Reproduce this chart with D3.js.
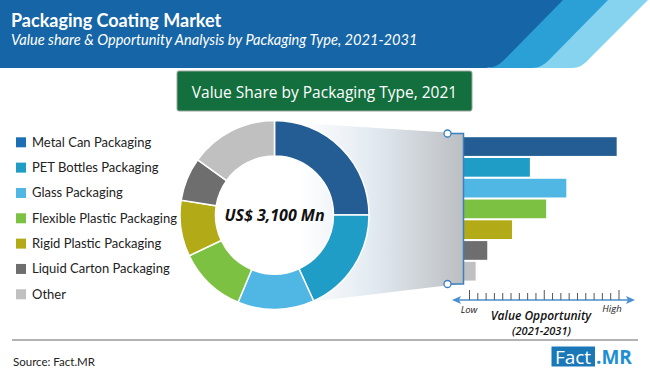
<!DOCTYPE html>
<html>
<head>
<meta charset="utf-8">
<script src="https://d3js.org/d3.v7.min.js"></script>
<style>
    body { margin: 0; background: #fff; }
    svg { display: block; }
    .legend text { font-family: Lato, sans-serif; font-size: 13px; fill: #222; }
</style>
</head>
<body>
<div id="chart"></div>
<script>
    // data
    var categories = ["Metal Can Packaging", "PET Bottles Packaging", "Glass Packaging",
        "Flexible Plastic Packaging", "Rigid Plastic Packaging", "Liquid Carton Packaging", "Other"];
    var shares = [25, 18.2, 13.1, 11.6, 9.6, 7.4, 15.1];          // % value share 2021
    var opportunity = [98.5, 42.5, 66, 53, 31, 15, 7.5];           // relative, low -> high
    var colors = ["#235d94", "#1f9dc6", "#50b7e5", "#7cc142", "#b3aa17", "#6e6e6e", "#c0c0c0"];
    var legendColors = ["#1c6fb5", "#1f9dc6", "#50b7e5", "#7cc142", "#b3aa17", "#6e6e6e", "#c0c0c0"];
    var tickSteps = d3.range(19);

    var width = 650, height = 374;

    var svg = d3.select("#chart").append("svg")
        .attr("width", width)
        .attr("height", height);

    var defs = svg.append("defs");
    var grad = defs.append("linearGradient")
        .attr("id", "funnel")
        .attr("gradientUnits", "userSpaceOnUse")
        .attr("x1", 300).attr("y1", 0).attr("x2", 463).attr("y2", 0);
    grad.append("stop").attr("offset", "0").attr("stop-color", "#ffffff");
    grad.append("stop").attr("offset", "0.45").attr("stop-color", "#e2eaf1");
    grad.append("stop").attr("offset", "1").attr("stop-color", "#bcbfc2");

    // header band
    svg.append("path")
        .attr("d", "M540,0 L648,0 L590,58 Q582,68 572,68 L490,68 Z")
        .attr("fill", "#86d3ef");
    svg.append("path")
        .attr("d", "M540,0 L608,0 L550,59 Q542,68 532,68 L490,68 Z")
        .attr("fill", "#2ba0d7");
    svg.append("path")
        .attr("d", "M0,0 L563,0 L503,61 Q496,68 486,68 L0,68 Z")
        .attr("fill", "#1565a7");

    svg.append("text")
        .attr("x", 11).attr("y", 27)
        .attr("fill", "#fff")
        .style("font-family", "Lato, sans-serif")
        .style("font-weight", "bold")
        .style("font-size", "18px")
        .text("Packaging Coating Market");

    svg.append("text")
        .attr("x", 11).attr("y", 45)
        .attr("fill", "#fff")
        .style("font-family", "Lato, sans-serif")
        .style("font-style", "italic")
        .style("font-size", "14.6px")
        .text("Value share & Opportunity Analysis by Packaging Type, 2021-2031");

    // green title box
    svg.append("rect")
        .attr("x", 177).attr("y", 71)
        .attr("width", 295).attr("height", 40)
        .attr("rx", 2)
        .attr("fill", "#146f3e")
        .attr("stroke", "#9aa59e")
        .attr("stroke-width", 1);

    svg.append("text")
        .attr("x", 324.5).attr("y", 97.5)
        .attr("text-anchor", "middle")
        .attr("fill", "#fff")
        .style("font-family", "'Open Sans', sans-serif")
        .style("font-size", "15.5px")
        .text("Value Share by Packaging Type, 2021");

    // funnel between donut and bars
    svg.append("path")
        .attr("d", "M275,121.5 L463,133.5 L463,283.5 L313,301.5 Z")
        .attr("fill", "url(#funnel)");

    // donut
    var cx = 274.5, cy = 215;
    var pie = d3.pie().sort(null).value(function (d) { return d; });
    var arc = d3.arc().innerRadius(59).outerRadius(94.5);

    svg.append("g")
        .attr("transform", "translate(" + cx + "," + cy + ")")
        .selectAll("path")
        .data(pie(shares))
        .enter().append("path")
        .attr("d", arc)
        .attr("fill", function (d, i) { return colors[i]; })
        .attr("stroke", "#fff")
        .attr("stroke-width", 1.5);

    svg.append("text")
        .attr("x", cx).attr("y", 221)
        .attr("text-anchor", "middle")
        .attr("fill", "#111")
        .style("font-family", "'Open Sans', sans-serif")
        .style("font-weight", "bold")
        .style("font-style", "italic")
        .style("font-size", "16px")
        .text("US$ 3,100 Mn");

    // legend
    var legend = svg.append("g").attr("class", "legend")
        .selectAll("g")
        .data(categories)
        .enter().append("g")
        .attr("transform", function (d, i) { return "translate(16," + (142.3 + i * 25.33) + ")"; });

    legend.append("rect")
        .attr("x", 0).attr("y", -5)
        .attr("width", 10).attr("height", 10)
        .attr("fill", function (d, i) { return legendColors[i]; });

    legend.append("text")
        .attr("x", 16).attr("y", 4.5)
        .text(function (d) { return d; });

    // bars
    var x = d3.scaleLinear().domain([0, 100]).range([464, 619]);
    var y = d3.scaleBand().domain(categories).range([136.8, 281]).paddingInner(0.1).paddingOuter(0.02);

    svg.append("g")
        .selectAll("rect")
        .data(opportunity)
        .enter().append("rect")
        .attr("x", x(0))
        .attr("y", function (d, i) { return y(categories[i]); })
        .attr("width", function (d) { return x(d) - x(0); })
        .attr("height", y.bandwidth())
        .attr("fill", function (d, i) { return colors[i]; });

    // bracket with circles
    var blue = "#3b7fbf";
    svg.append("path")
        .attr("d", "M447.5,133.5 H463.5 V284 H447.5")
        .attr("fill", "none")
        .attr("stroke", blue)
        .attr("stroke-width", 1.5);
    svg.selectAll("circle.knob")
        .data([133.5, 284])
        .enter().append("circle")
        .attr("class", "knob")
        .attr("cx", 447.5).attr("cy", function (d) { return d; })
        .attr("r", 3.5)
        .attr("fill", "#fff")
        .attr("stroke", blue)
        .attr("stroke-width", 1.3);

    // value opportunity axis
    var t = d3.scaleLinear().domain([0, 18]).range([469.5, 619]);
    var axisY = 300;
    svg.append("line")
        .attr("x1", 457).attr("x2", 630)
        .attr("y1", axisY).attr("y2", axisY)
        .attr("stroke", "#4a8fd0").attr("stroke-width", 1.5);
    svg.append("path")
        .attr("d", "M452," + axisY + " l9,-4 l-2,4 l2,4 Z")
        .attr("fill", "#4a8fd0");
    svg.append("path")
        .attr("d", "M635," + axisY + " l-9,-4 l2,4 l-2,4 Z")
        .attr("fill", "#4a8fd0");

    svg.append("g")
        .selectAll("line")
        .data(tickSteps)
        .enter().append("line")
        .attr("x1", function (d) { return t(d); })
        .attr("x2", function (d) { return t(d); })
        .attr("y1", axisY)
        .attr("y2", function (d) { return d % 9 === 0 ? axisY - 10 : axisY - 7; })
        .attr("stroke", "#555")
        .attr("stroke-width", 1);

    svg.append("text")
        .attr("x", 469).attr("y", 313)
        .attr("text-anchor", "middle")
        .style("font-family", "'Open Sans', sans-serif")
        .style("font-style", "italic")
        .style("font-size", "9.5px")
        .attr("fill", "#222")
        .text("Low");
    svg.append("text")
        .attr("x", 612).attr("y", 312)
        .attr("text-anchor", "middle")
        .style("font-family", "'Open Sans', sans-serif")
        .style("font-style", "italic")
        .style("font-size", "9.5px")
        .attr("fill", "#222")
        .text("High");
    svg.append("text")
        .attr("x", 541).attr("y", 320)
        .attr("text-anchor", "middle")
        .style("font-family", "'Open Sans', sans-serif")
        .style("font-style", "italic")
        .style("font-weight", "600")
        .style("font-size", "12px")
        .attr("fill", "#111")
        .text("Value Opportunity");
    svg.append("text")
        .attr("x", 541.5).attr("y", 335)
        .attr("text-anchor", "middle")
        .style("font-family", "'Open Sans', sans-serif")
        .style("font-style", "italic")
        .style("font-weight", "600")
        .style("font-size", "11px")
        .attr("fill", "#111")
        .text("(2021-2031)");

    // footer
    svg.append("line")
        .attr("x1", 12).attr("x2", 638)
        .attr("y1", 340).attr("y2", 340)
        .attr("stroke", "#9a9a9a").attr("stroke-width", 1.5);

    svg.append("text")
        .attr("x", 13).attr("y", 366)
        .style("font-family", "Lato, sans-serif")
        .style("font-size", "11.5px")
        .attr("fill", "#222")
        .text("Source: Fact.MR");

    svg.append("rect")
        .attr("x", 551.5).attr("y", 346.5)
        .attr("width", 43.5).attr("height", 20)
        .attr("fill", "#1b78b8");
    svg.append("text")
        .attr("x", 573).attr("y", 363.5)
        .attr("text-anchor", "middle")
        .style("font-family", "'Open Sans', sans-serif")
        .style("font-size", "19px")
        .attr("fill", "#fff")
        .text("Fact");
    svg.append("text")
        .attr("x", 596).attr("y", 363.5)
        .style("font-family", "'Open Sans', sans-serif")
        .style("font-weight", "bold")
        .style("font-size", "19px")
        .attr("fill", "#1e8fd2")
        .text(".MR");
</script>
</body>
</html>
